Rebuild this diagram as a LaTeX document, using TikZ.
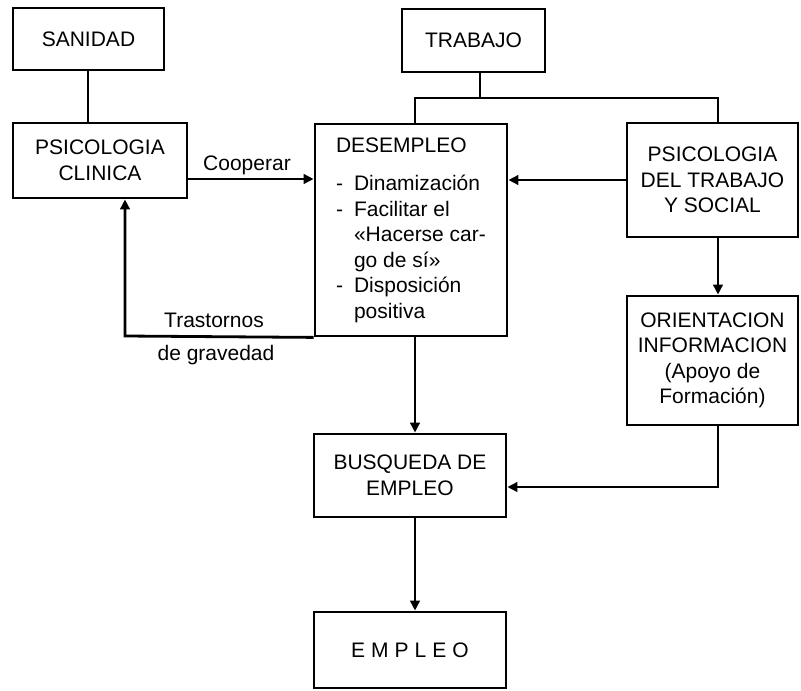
\documentclass[tikz,border=0pt]{standalone}
\usepackage{fontspec}
\setmainfont{Liberation Sans}
\usetikzlibrary{arrows.meta}
\newcommand\mydash{\makebox[18pt][l]{-}}
\newcommand\myind{\hspace*{18pt}}
\begin{document}
\begin{tikzpicture}[x=1pt,y=-1pt,
  box/.style={draw, line width=2.8pt, inner sep=0pt, align=center, font=\fontsize{21}{25.5}\selectfont},
  lbl/.style={font=\fontsize{21}{25.5}\selectfont, inner sep=0pt},
  ln/.style={line width=2.8pt},
  arr/.style={line width=2.8pt, -{Triangle[length=10pt,width=9.5pt]}}]
\useasboundingbox (0,0) rectangle (801,691);
% boxes
\node[box, minimum width=151pt, minimum height=62pt] (san) at (88.5,39) {SANIDAD};
\node[box, minimum width=174pt, minimum height=75pt] (pc) at (100,160.5) {PSICOLOGIA\\CLINICA};
\node[box, minimum width=143pt, minimum height=63pt] (trab) at (473.5,40.5) {TRABAJO};
\node[box, align=left, minimum width=192pt, minimum height=212pt] (des) at (411,230)
  {DESEMPLEO\\[13pt]
   \mydash Dinamización\\
   \mydash Facilitar el\\
   \myind «Hacerse car-\\
   \myind go de sí»\\
   \mydash Disposición\\
   \myind positiva};
\node[box, minimum width=171pt, minimum height=114pt] (psts) at (712.5,180) {PSICOLOGIA\\DEL TRABAJO\\Y SOCIAL};
\node[box, minimum width=171pt, minimum height=129pt] (orient) at (712.5,360.5) {ORIENTACION\\INFORMACION\\(Apoyo de\\Formación)};
\node[box, minimum width=192pt, minimum height=83pt] (busq) at (410,475.5) {BUSQUEDA DE\\EMPLEO};
\node[box, minimum width=192pt, minimum height=76pt] (emp) at (410,650) {E\kern6pt M\kern6pt P\kern6pt L\kern6pt E\kern6pt O};
% coordinates
\coordinate (sx) at (88,0);
\coordinate (tj) at (480,98);
\coordinate (jL) at (415,98);
\coordinate (jR) at (718,98);
\coordinate (cy) at (0,179);
\coordinate (ox) at (718,0);
\coordinate (ob) at (718,487);
\coordinate (dx) at (415,0);
\coordinate (fb) at (125,336);
% connectors
\draw[ln] (sx |- san.south) -- (sx |- pc.north);
\draw[ln] (tj |- trab.south) -- (tj);
\draw[ln] (jL |- des.north) -- (jL) -- (jR) -- (jR |- psts.north);
\draw[arr] (pc.east |- cy) -- (des.west |- cy);
\draw[arr] (psts.west) -- (psts.west -| des.east);
\draw[arr] (ox |- psts.south) -- (ox |- orient.north);
\draw[arr] (ox |- orient.south) -- (ob) -- (ob -| busq.east);
\draw[arr] (dx |- des.south) -- (dx |- busq.north);
\draw[arr] (dx |- busq.south) -- (dx |- emp.north);
\draw[arr] (des.south west) -- (fb) -- (fb |- pc.south);
% labels
\node[lbl, anchor=base] (coop) at (247,170) {Cooperar};
\node[lbl, anchor=base] (tr1) at (214,327) {Trastornos};
\node[lbl, anchor=base] (tr2) at (216,360) {de gravedad};
\end{tikzpicture}
\end{document}
